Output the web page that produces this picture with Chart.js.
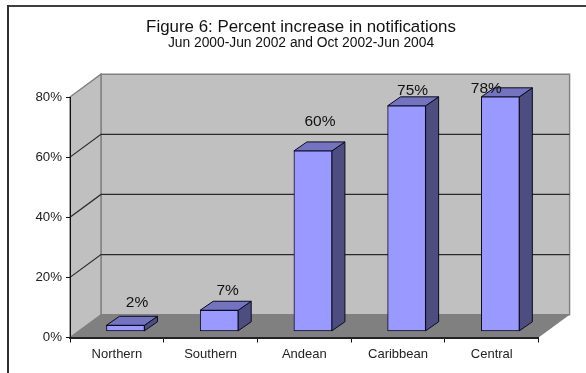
<!DOCTYPE html>
<html>
<head>
<meta charset="utf-8">
<style>
  html, body { margin: 0; padding: 0; background: #fff; }
  canvas { display: block; }
</style>
<script src="https://cdn.jsdelivr.net/npm/chart.js@4"></script>
</head>
<body>
<canvas id="notificationsChart" width="586" height="373"></canvas>
<script>
const regions = ['Northern', 'Southern', 'Andean', 'Caribbean', 'Central'];
const percentIncrease = [2, 7, 60, 75, 78];
const percentTicks = [0, 20, 40, 60, 80];

const chartTitle = 'Figure 6: Percent increase in notifications';
const chartSubtitle = 'Jun 2000-Jun 2002 and Oct 2002-Jun 2004';

// depth of the fake 3D box and of each bar
const boxDepth = { x: 31, y: 22.8 };
const barDepth = { x: 13, y: 9 };
const barShift = { x: 8.6, y: -6.2 };

function polygon(ctx, points, fill, stroke, lineWidth) {
    ctx.beginPath();
    points.forEach((p, i) => i ? ctx.lineTo(p[0], p[1]) : ctx.moveTo(p[0], p[1]));
    ctx.closePath();
    ctx.fillStyle = fill;
    ctx.fill();
    if (stroke) {
        ctx.strokeStyle = stroke;
        ctx.lineWidth = lineWidth;
        ctx.stroke();
    }
}

// Frame, walls, floor and gridlines behind the axes
const boxPlugin = {
    id: 'box3d',
    beforeDraw(chart) {
        const ctx = chart.ctx;
        const y = chart.scales.y;
        const { left, right, top, bottom } = chart.chartArea;
        const dx = boxDepth.x, dy = boxDepth.y;

        ctx.save();
        ctx.fillStyle = '#fff';
        ctx.fillRect(0, 0, chart.width, chart.height);
        ctx.fillStyle = '#404040';
        ctx.fillRect(7, 5, chart.width - 7, 2);
        ctx.fillStyle = '#303030';
        ctx.fillRect(7, 5, 2, chart.height - 5);

        polygon(ctx, [[left + dx, top - dy], [right + dx, top - dy], [right + dx, bottom - dy], [left + dx, bottom - dy]], '#c0c0c0', '#808080', 1.4);
        polygon(ctx, [[left, top], [left + dx, top - dy], [left + dx, bottom - dy], [left, bottom]], '#c0c0c0', '#808080', 1.4);
        polygon(ctx, [[left, bottom], [left + dx, bottom - dy], [right + dx, bottom - dy], [right, bottom]], '#808080');

        percentTicks.slice(1, -1).forEach(v => {
            const py = y.getPixelForValue(v);
            ctx.strokeStyle = '#2a2a2a';
            ctx.lineWidth = 1.2;
            ctx.beginPath();
            ctx.moveTo(left, py);
            ctx.lineTo(left + dx, py - dy);
            ctx.lineTo(right + dx, py - dy);
            ctx.stroke();
        });
        ctx.restore();
    }
};

// Moves the bars into the box and adds their top and side faces
const barFacesPlugin = {
    id: 'barFaces',
    beforeDatasetsDraw(chart) {
        const ctx = chart.ctx;
        ctx.save();
        ctx.translate(barShift.x, barShift.y);
        ctx.lineJoin = 'round';
        chart.getDatasetMeta(0).data.forEach(bar => {
            const l = bar.x - bar.width / 2, r = bar.x + bar.width / 2;
            const t = bar.y, b = bar.base;
            const dx = barDepth.x, dy = barDepth.y;
            polygon(ctx, [[r, t], [r + dx, t - dy], [r + dx, b - dy], [r, b]], '#4d4d80', '#0a0a20', 1);
            polygon(ctx, [[l, t], [l + dx, t - dy], [r + dx, t - dy], [r, t]], '#7373bf', '#0a0a20', 1);
        });
    },
    afterDatasetsDraw(chart) {
        chart.ctx.restore();
    }
};

// Percent labels sit where the author dragged them, so each has its own offset
const valueLabelPlugin = {
    id: 'valueLabels',
    offsets: [[11.5, -23], [8.5, -20], [7, -29], [6, -15], [-14, -8]],
    afterDatasetsDraw(chart) {
        const ctx = chart.ctx;
        ctx.save();
        ctx.font = '15.5px "Liberation Sans", Arial, sans-serif';
        ctx.fillStyle = '#111';
        ctx.textAlign = 'center';
        ctx.textBaseline = 'middle';
        chart.getDatasetMeta(0).data.forEach((bar, i) => {
            const off = this.offsets[i];
            ctx.fillText(percentIncrease[i] + '%', bar.x + barShift.x + off[0], bar.y + barShift.y + off[1]);
        });
        ctx.restore();
    }
};

new Chart(document.getElementById('notificationsChart'), {
    type: 'bar',
    data: {
        labels: regions,
        datasets: [{
            data: percentIncrease,
            backgroundColor: '#9999ff',
            borderColor: '#0a0a20',
            borderWidth: 1,
            borderSkipped: false,
            barThickness: 38,
            clip: false
        }]
    },
    plugins: [boxPlugin, barFacesPlugin, valueLabelPlugin],
    options: {
        responsive: false,
        animation: false,
        // left padding plus the empty right axis centre the titles over the frame
        layout: { padding: { left: 16, right: 0, top: 0, bottom: 0 } },
        plugins: {
            legend: { display: false },
            tooltip: { enabled: false },
            title: {
                display: true,
                text: chartTitle,
                color: '#111',
                font: { family: '"Liberation Sans", Arial, sans-serif', size: 16.9, weight: 'normal', lineHeight: 1 },
                padding: { top: 18.6, bottom: 0 }
            },
            subtitle: {
                display: true,
                text: chartSubtitle,
                color: '#111',
                font: { family: '"Liberation Sans", Arial, sans-serif', size: 13.8, lineHeight: 1 },
                padding: { top: 1, bottom: 46.7 }
            }
        },
        scales: {
            x: {
                afterFit(scale) { scale.height = 35.5; },
                grid: { drawOnChartArea: false, tickLength: 5, tickColor: '#111', offset: true },
                border: { color: '#222', width: 2 },
                ticks: {
                    color: '#222',
                    padding: 4,
                    maxRotation: 0,
                    font: { family: '"Liberation Sans", Arial, sans-serif', size: 13 }
                }
            },
            y: {
                min: 0,
                max: 80,
                afterFit(scale) { scale.width = 54; },
                afterBuildTicks(scale) { scale.ticks = percentTicks.map(v => ({ value: v })); },
                grid: { drawOnChartArea: false, tickLength: 4, tickColor: '#111' },
                border: { color: '#111', width: 1 },
                ticks: {
                    color: '#222',
                    padding: 4,
                    font: { family: '"Liberation Sans", Arial, sans-serif', size: 13.3 },
                    callback: v => v + '%'
                }
            },
            rightGap: {
                position: 'right',
                afterFit(scale) { scale.width = 47.4; },
                grid: { display: false },
                border: { display: false },
                ticks: { display: false }
            }
        }
    }
});
</script>
</body>
</html>
